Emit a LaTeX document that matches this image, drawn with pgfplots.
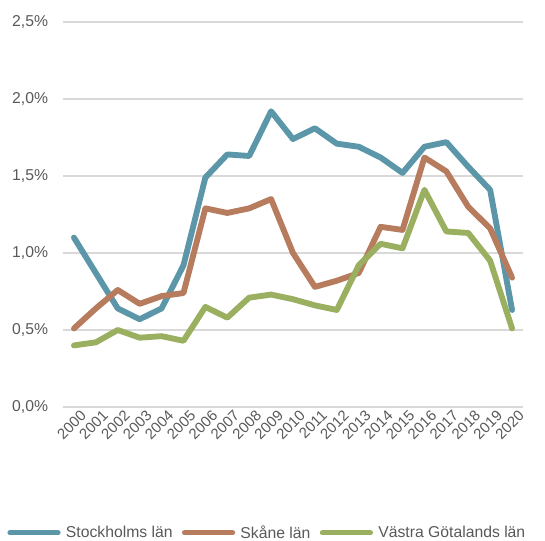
\documentclass[border=0pt]{standalone}
\usepackage{pgfplots}
\pgfplotsset{compat=1.18}
\usepackage{fontspec}
\setmainfont{Liberation Sans}
\definecolor{sthlm}{HTML}{5B97A9}
\definecolor{skane}{HTML}{B77B5E}
\definecolor{vg}{HTML}{9AAF5F}
\definecolor{txt}{HTML}{595959}
\definecolor{gridc}{HTML}{D9D9D9}
\pgfplotstableread{
x s k v
0 1.10 0.51 0.40
1 0.87 0.64 0.42
2 0.64 0.76 0.50
3 0.57 0.67 0.45
4 0.64 0.72 0.46
5 0.92 0.74 0.43
6 1.49 1.29 0.65
7 1.64 1.26 0.58
8 1.63 1.29 0.71
9 1.92 1.35 0.73
10 1.74 1.00 0.70
11 1.81 0.78 0.66
12 1.71 0.82 0.63
13 1.69 0.87 0.92
14 1.62 1.17 1.06
15 1.52 1.15 1.03
16 1.69 1.62 1.41
17 1.72 1.53 1.14
18 1.56 1.30 1.13
19 1.41 1.16 0.95
20 0.63 0.84 0.51
}\data
\begin{document}
\begin{tikzpicture}
\useasboundingbox (-47.25pt,-99.75pt) rectangle (361.5pt,305.25pt);
\begin{axis}[
  scale only axis,
  width=345pt, height=288.75pt,
  xmin=-0.5, xmax=20.5,
  ymin=0, ymax=2.5,
  xtick={0,...,20},
  xticklabels={2000,2001,2002,2003,2004,2005,2006,2007,2008,2009,2010,2011,2012,2013,2014,2015,2016,2017,2018,2019,2020},
  ytick={0,0.5,1,1.5,2,2.5},
  yticklabel={\pgfmathprintnumber[fixed,fixed zerofill,precision=1,use comma,assume math mode=true]{\tick}\%},
  xmajorgrids=false,
  ymajorgrids=true,
  major grid style={draw=gridc, line width=1.1pt},
  axis line style={draw=none},
  major tick length=0pt,
  tick style={draw=none},
  tick label style={font=\fontsize{11.8}{14}\selectfont, text=txt},
  yticklabel style={anchor=east, inner sep=0pt, xshift=-11pt},
  xticklabel style={font=\fontsize{11.2}{13}\selectfont, rotate=45, anchor=north east, inner sep=0pt, xshift=2pt, yshift=-4pt},
  legend style={at={(0.4435,-0.327)}, anchor=center, draw=none, fill=none,
    font=\fontsize{11.8}{14}\selectfont, text=txt,
    legend columns=3,
    nodes={inner sep=1pt},
    /tikz/every odd column/.append style={column sep=3pt},
    /tikz/every even column/.append style={column sep=6pt},
    inner sep=0pt},
  legend image code/.code={\draw[#1, line width=3.8pt, line cap=round] (1.9pt,0pt) -- (38pt,0pt);},
  every axis plot/.append style={line width=4.4pt, line join=round, line cap=round, mark=none},
]
\addplot[sthlm] table[x=x,y=s]{\data};
\addlegendentry{Stockholms län}
\addplot[skane] table[x=x,y=k]{\data};
\addlegendentry{Skåne län}
\addplot[vg] table[x=x,y=v]{\data};
\addlegendentry{Västra Götalands län}
\end{axis}
\end{tikzpicture}
\end{document}
